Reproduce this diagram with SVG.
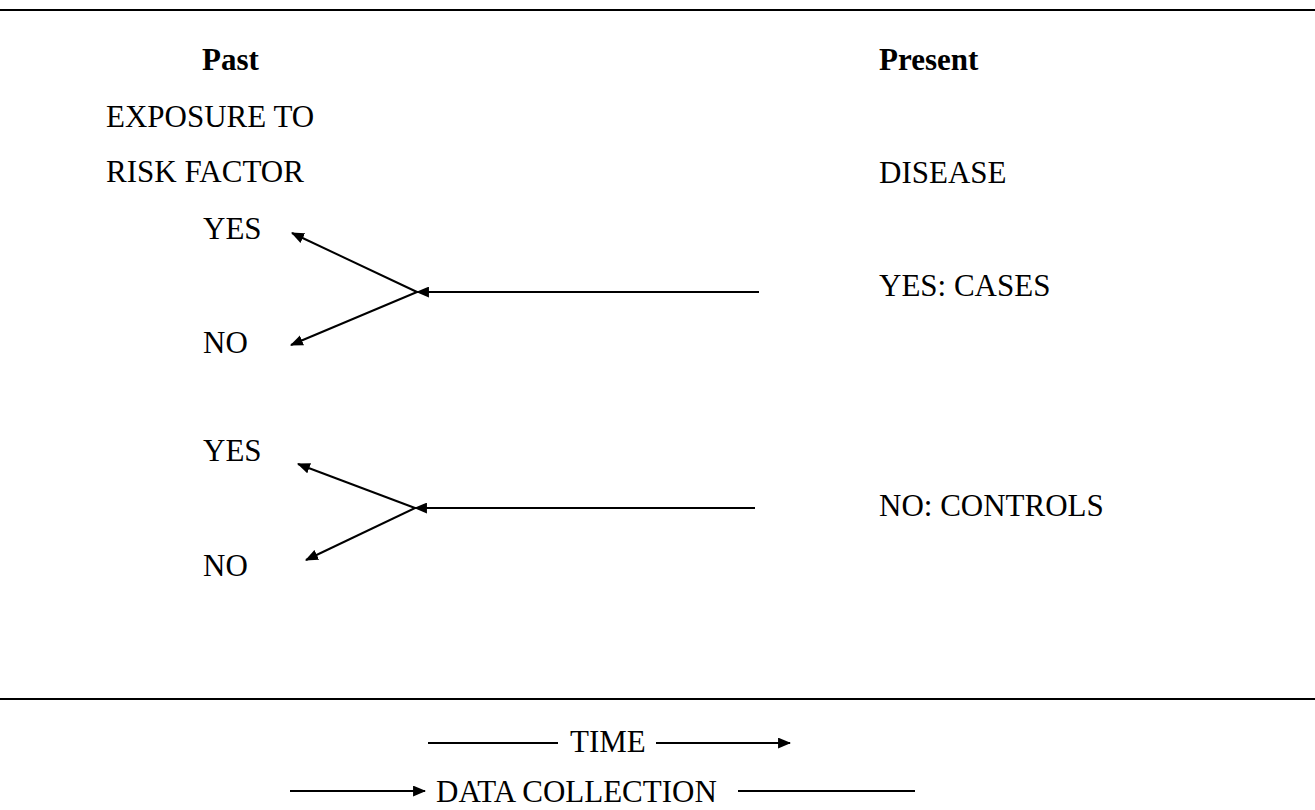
<svg xmlns="http://www.w3.org/2000/svg" width="1315" height="810" viewBox="0 0 1315 810">
<style>
text{font-family:"Liberation Serif","Times New Roman",serif;font-size:31px;fill:#000}
.b{font-weight:bold}
.rule{stroke:#000;stroke-width:2}
.c{stroke:#000;stroke-width:2;fill:none}
</style>
<defs>
<marker id="ah" viewBox="0 0 12 10" refX="11" refY="5" markerWidth="13" markerHeight="11" markerUnits="userSpaceOnUse" orient="auto">
<path d="M0,0 L12,5 L0,10 Z" fill="#000"/>
</marker>
</defs>
<rect width="1315" height="810" fill="#fff"/>
<line class="rule" x1="0" y1="10" x2="1315" y2="10"/>
<line class="rule" x1="0" y1="699" x2="1315" y2="699"/>
<g id="past"><text class="b" x="202" y="70">Past</text></g>
<g id="present"><text class="b" x="879" y="70">Present</text></g>
<g id="exposure"><text x="106" y="127">EXPOSURE TO</text><text x="106" y="182">RISK FACTOR</text></g>
<g id="disease"><text x="879" y="183">DISEASE</text></g>
<g id="yes1"><text x="203" y="239">YES</text></g>
<g id="no1"><text x="203" y="353">NO</text></g>
<g id="cases"><text x="879" y="296">YES: CASES</text></g>
<g id="yes2"><text x="203" y="461">YES</text></g>
<g id="no2"><text x="203" y="576">NO</text></g>
<g id="controls"><text x="879" y="516">NO: CONTROLS</text></g>
<g id="time"><text x="570" y="752">TIME</text></g>
<g id="datacollection"><text x="436" y="802">DATA COLLECTION</text></g>
<g id="connectors">
<line class="c" x1="759" y1="292" x2="417" y2="292" marker-end="url(#ah)"/>
<line class="c" x1="417" y1="292" x2="292" y2="233" marker-end="url(#ah)"/>
<line class="c" x1="417" y1="292" x2="291" y2="345" marker-end="url(#ah)"/>
<line class="c" x1="755" y1="508" x2="415" y2="508" marker-end="url(#ah)"/>
<line class="c" x1="415" y1="508" x2="298" y2="464" marker-end="url(#ah)"/>
<line class="c" x1="415" y1="508" x2="306" y2="560" marker-end="url(#ah)"/>
<line class="c" x1="428" y1="743" x2="558" y2="743"/>
<line class="c" x1="656" y1="743" x2="790" y2="743" marker-end="url(#ah)"/>
<line class="c" x1="290" y1="791" x2="425" y2="791" marker-end="url(#ah)"/>
<line class="c" x1="738" y1="791" x2="915" y2="791"/>
</g>
</svg>
